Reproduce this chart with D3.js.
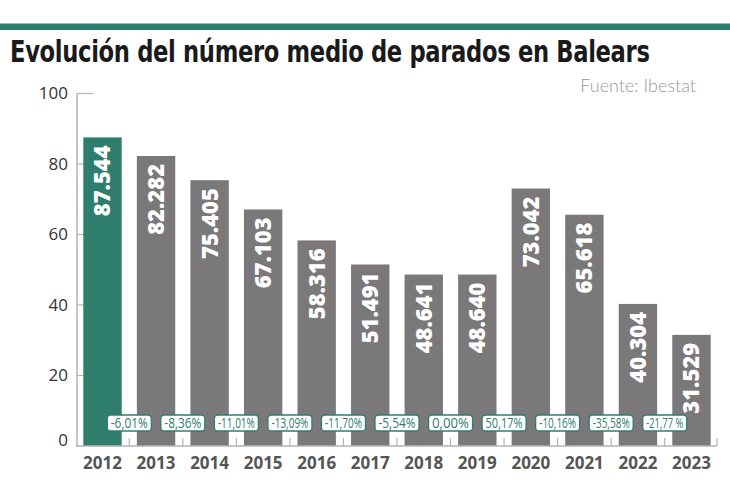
<!DOCTYPE html>
<html>
<head>
<meta charset="utf-8">
<script src="https://cdn.jsdelivr.net/npm/d3@7"></script>
<style>
  html, body { margin: 0; padding: 0; background: #fff; }
  svg { display: block; }
</style>
</head>
<body>
<div id="chart"></div>
<script>
  'use strict';

  // data
  var years = ['2012', '2013', '2014', '2015', '2016', '2017',
    '2018', '2019', '2020', '2021', '2022', '2023'];
  var parados = [87544, 82282, 75405, 67103, 58316, 51491,
    48641, 48640, 73042, 65618, 40304, 31529];
  var variaciones = ['-6,01%', '-8,36%', '-11,01%', '-13,09%', '-11,70%',
    '-5,54%', '0,00%', '50,17%', '-10,16%', '-35,58%', '-21,77 %'];
  var yTicks = [0, 20, 40, 60, 80, 100];

  var width = 730,
    height = 500,
    green = '#2e7d6d',
    grey = '#7a7879',
    axisColor = '#b3b3b3';

  var svg = d3.select('#chart').append('svg')
    .attr('width', width)
    .attr('height', height);

  // top rule + headings
  svg.append('rect')
    .attr('x', 0).attr('y', 23.5)
    .attr('width', width).attr('height', 6.5)
    .attr('fill', green);

  // title is set in a condensed face: squeeze it horizontally to the
  // width it takes in the reference
  var title = svg.append('text')
    .attr('x', 0).attr('y', 0)
    .style('font-family', '"DejaVu Sans Condensed", "DejaVu Sans", sans-serif')
    .style('font-weight', 700)
    .style('font-size', '30px')
    .style('letter-spacing', '-0.4px')
    .style('fill', '#1a1a1a')
    .text('Evolución del número medio de parados en Balears');
  var titleW = title.node().getComputedTextLength();
  title.attr('transform', 'translate(10,62) scale(' + (640 / titleW) + ',1)');

  svg.append('text')
    .attr('x', 696).attr('y', 92)
    .attr('text-anchor', 'end')
    .style('font-family', 'Lato, "Open Sans", sans-serif')
    .style('font-weight', 300)
    .style('font-size', '18px')
    .style('fill', '#999')
    .text('Fuente: Ibestat');

  // scales
  var x = d3.scaleBand()
    .domain(years)
    .range([77, 717])
    .paddingInner(0.283)
    .paddingOuter(0.118);

  var y = d3.scaleLinear()
    .domain([0, 100])
    .range([446, 93.5]);

  // y axis
  var yAxis = svg.append('g').attr('class', 'y-axis');
  yAxis.append('line')
    .attr('x1', 77).attr('x2', 77)
    .attr('y1', y(100)).attr('y2', y(0))
    .attr('stroke', axisColor).attr('stroke-width', 1.5);

  yAxis.selectAll('line.tick')
    .data(yTicks.filter(function(d) { return d > 0; }))
    .enter().append('line')
    .attr('class', 'tick')
    .attr('x1', 77)
    .attr('x2', function(d) { return d === 100 ? 93 : 84; })
    .attr('y1', function(d) { return y(d); })
    .attr('y2', function(d) { return y(d); })
    .attr('stroke', axisColor).attr('stroke-width', 1.2);

  yAxis.selectAll('text')
    .data(yTicks)
    .enter().append('text')
    .attr('x', 68)
    .attr('y', function(d) { return d === 0 ? y(d) - 6 : y(d); })
    .attr('dy', '0.35em')
    .attr('text-anchor', 'end')
    .style('font-family', '"Open Sans", sans-serif')
    .style('font-size', '17px')
    .style('fill', '#333')
    .text(function(d) { return d; });

  // bars
  var bars = svg.append('g').attr('class', 'bars');
  bars.selectAll('rect')
    .data(parados)
    .enter().append('rect')
    .attr('x', function(d, i) { return x(years[i]); })
    .attr('y', function(d) { return y(d / 1000); })
    .attr('width', x.bandwidth())
    .attr('height', function(d) { return y(0) - y(d / 1000); })
    .attr('fill', function(d, i) { return i === 0 ? green : grey; });

  var fmt = d3.formatLocale({ decimal: ',', thousands: '.', grouping: [3], currency: ['', '€'] }).format(',d');

  bars.selectAll('text')
    .data(parados)
    .enter().append('text')
    .attr('transform', function(d, i) {
      var cx = x(years[i]) + x.bandwidth() / 2;
      return 'translate(' + cx + ',' + (y(d / 1000) + 8) + ') rotate(-90)';
    })
    .attr('dy', '0.36em')
    .attr('text-anchor', 'end')
    .style('font-family', '"Open Sans", sans-serif')
    .style('font-weight', 800)
    .style('font-size', '22px')
    .style('fill', '#fff')
    .text(function(d) { return fmt(d); });

  // x axis
  var xAxis = svg.append('g').attr('class', 'x-axis');
  xAxis.append('line')
    .attr('x1', 76).attr('x2', 717)
    .attr('y1', y(0)).attr('y2', y(0))
    .attr('stroke', axisColor).attr('stroke-width', 1.5);

  // ticks sit between bars (band boundaries) and at the right end
  var step = x.step();
  var boundaries = years.slice(1).map(function(yr) {
    return x(yr) - step * x.paddingInner() / 2;
  });
  boundaries.push(717);

  xAxis.selectAll('line.tick')
    .data(boundaries)
    .enter().append('line')
    .attr('class', 'tick')
    .attr('x1', function(d) { return d; })
    .attr('x2', function(d) { return d; })
    .attr('y1', y(0))
    .attr('y2', y(0) - 8)
    .attr('stroke', axisColor).attr('stroke-width', 1.2);

  xAxis.selectAll('text')
    .data(years)
    .enter().append('text')
    .attr('x', function(d) { return x(d) + x.bandwidth() / 2; })
    .attr('y', 469)
    .attr('text-anchor', 'middle')
    .style('font-family', '"Open Sans", sans-serif')
    .style('font-weight', 700)
    .style('font-size', '17px')
    .style('fill', '#555')
    .text(function(d) { return d; });

  // yearly change badges, text squeezed to a condensed look so the
  // boxes keep a gap between them like in the reference
  var maxTextW = 37;
  var badges = svg.append('g').attr('class', 'badges')
    .selectAll('g')
    .data(variaciones)
    .enter().append('g')
    .attr('transform', function(d, i) {
      return 'translate(' + boundaries[i] + ',423)';
    });

  badges.append('text')
    .attr('text-anchor', 'middle')
    .attr('dy', '0.35em')
    .style('font-family', '"Open Sans", sans-serif')
    .style('font-size', '14px')
    .style('fill', green)
    .text(function(d) { return d; });

  badges.each(function() {
    var g = d3.select(this),
      t = g.select('text'),
      w = t.node().getComputedTextLength(),
      sx = Math.min(1, maxTextW / w);
    t.attr('transform', 'scale(' + sx + ',1)');
    g.insert('rect', 'text')
      .attr('x', -(w * sx) / 2 - 3.5)
      .attr('y', -8)
      .attr('width', w * sx + 7)
      .attr('height', 16)
      .attr('rx', 3.5).attr('ry', 3.5)
      .attr('fill', '#fff')
      .attr('stroke', green)
      .attr('stroke-width', 1.3);
  });
</script>
</body>
</html>
